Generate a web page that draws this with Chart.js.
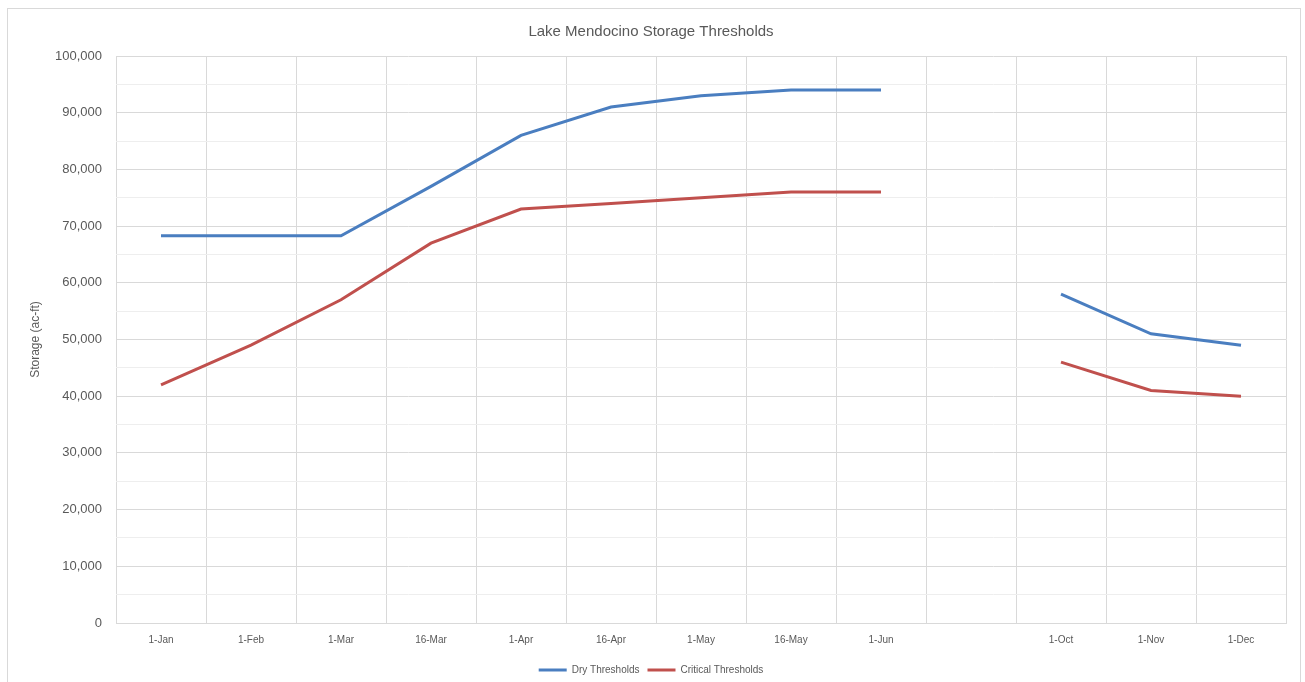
<!DOCTYPE html>
<html lang="en">
<head>
  <meta charset="UTF-8" />
  <title>Lake Mendocino Storage Thresholds</title>
  <script src="https://cdn.jsdelivr.net/npm/chart.js"></script>
  <style>
    html,body{margin:0;padding:0;background:#fff;}
    .frame{position:absolute;left:7px;top:8px;width:1294px;height:680px;
           border:1px solid #d9d9d9;box-sizing:border-box;}
    canvas{display:block;}
  </style>
</head>
<body>
  <div class="frame">
    <canvas id="storageChart" width="1292" height="678"></canvas>
  </div>

  <script>
    const categories=['1-Jan','1-Feb','1-Mar','16-Mar','1-Apr','16-Apr','1-May','16-May','1-Jun','','1-Oct','1-Nov','1-Dec'];
    const dryThresholds     =[68300,68300,68300,77000,86000,91000,93000,94000,94000,null,58000,51000,49000];
    const criticalThresholds=[42000,49000,57000,67000,73000,74000,75000,76000,76000,null,46000,41000,40000];
    const yMin=0, yMax=100000, yStep=5000, yLabelStep=10000;

    const textColor='#595959';
    const font='"Liberation Sans", Arial, sans-serif';

    new Chart(document.getElementById('storageChart'),{
      type:'line',
      data:{
        labels:categories,
        datasets:[
          {label:'Dry Thresholds',data:dryThresholds,borderColor:'#4A7EC0',backgroundColor:'#4A7EC0',
           borderWidth:3,pointRadius:0,tension:0,spanGaps:false},
          {label:'Critical Thresholds',data:criticalThresholds,borderColor:'#C0504D',backgroundColor:'#C0504D',
           borderWidth:3,pointRadius:0,tension:0,spanGaps:false}
        ]
      },
      options:{
        responsive:false,
        animation:false,
        layout:{padding:{left:8,right:14,top:4,bottom:2}},
        plugins:{
          title:{display:true,text:'Lake Mendocino Storage Thresholds',color:textColor,
                 font:{family:font,size:15,weight:'normal'},padding:{top:10,bottom:15}},
          legend:{position:'bottom',
                  labels:{color:textColor,boxWidth:28,boxHeight:3,padding:8,
                          font:{family:font,size:10},
                          generateLabels:chart=>Chart.defaults.plugins.legend.labels.generateLabels(chart)
                            .map(l=>({...l,lineWidth:0}))}},
          tooltip:{enabled:false}
        },
        scales:{
          x:{
            offset:true,
            grid:{color:'#d9d9d9',offset:true,drawTicks:false},
            border:{color:'#d9d9d9'},
            ticks:{color:textColor,font:{family:font,size:10},padding:11,maxRotation:0,autoSkip:false}
          },
          y:{
            min:yMin,max:yMax,
            afterFit:s=>{s.width=100;},
            grid:{drawTicks:false,
                  color:c=>c.tick.value%yLabelStep===0?'#d9d9d9':'#eeeeee'},
            border:{display:false},
            title:{display:true,text:'Storage (ac-ft)',color:textColor,font:{family:font,size:12},padding:{top:12,bottom:4}},
            ticks:{stepSize:yStep,color:textColor,font:{family:font,size:13},padding:14,
                   callback:v=>v%yLabelStep===0?v.toLocaleString('en-US'):''}
          }
        }
      }
    });
  </script>
</body>
</html>
